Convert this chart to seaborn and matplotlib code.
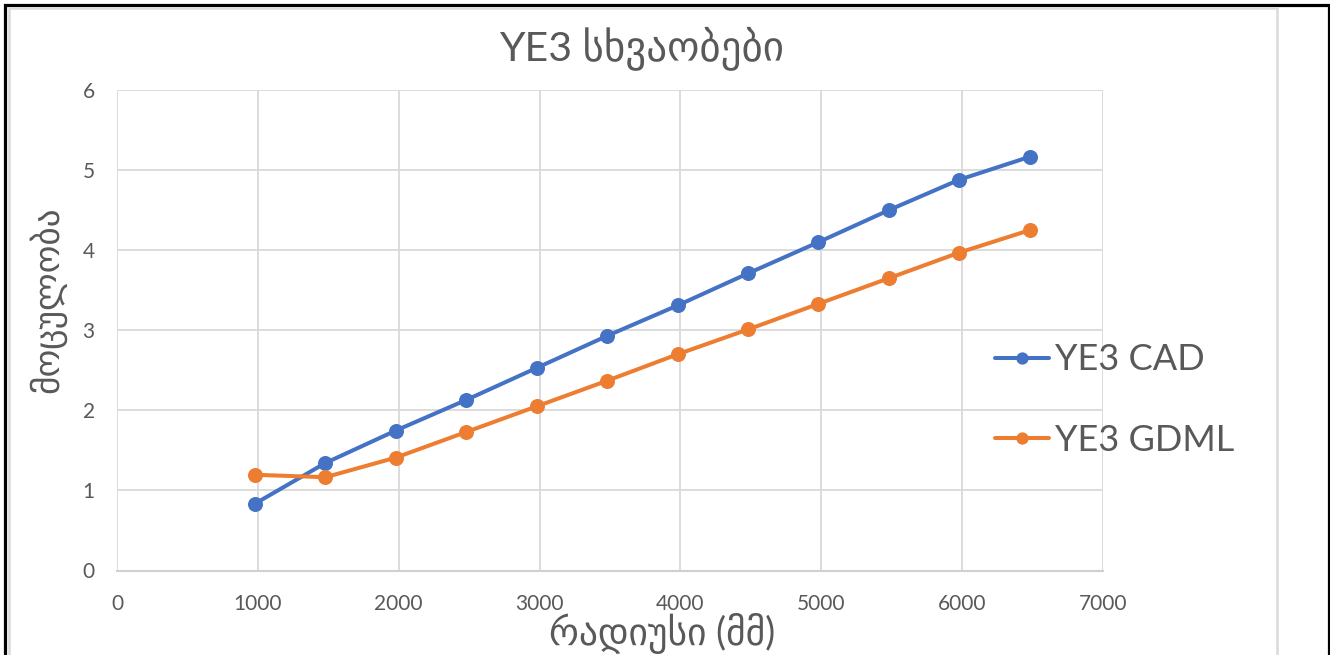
import matplotlib
matplotlib.use("Agg")
import matplotlib.pyplot as plt
from matplotlib.patches import Rectangle
import seaborn as sns
import pandas as pd

# ---- data ----
radius = [980, 1480, 1980, 2480, 2980, 3480, 3980, 4480, 4980, 5480, 5980, 6480]
ye3_cad = [0.835, 1.343, 1.748, 2.13, 2.53, 2.93, 3.31, 3.71, 4.10, 4.50, 4.88, 5.166]
ye3_gdml = [1.195, 1.165, 1.41, 1.73, 2.05, 2.37, 2.70, 3.01, 3.33, 3.65, 3.97, 4.25]
series_names = ["YE3 CAD", "YE3 GDML"]
x_ticks = [0, 1000, 2000, 3000, 4000, 5000, 6000, 7000]
y_ticks = [0, 1, 2, 3, 4, 5, 6]
title_text = "YE3 სხვაობები"
x_label = "რადიუსი (მმ)"
y_label = "მოცულობა"

df = pd.DataFrame({
    "radius": radius * 2,
    "value": ye3_cad + ye3_gdml,
    "series": [series_names[0]] * len(radius) + [series_names[1]] * len(radius),
})

sns.set_theme(style="white")
plt.rcParams["font.family"] = ["Lato", "DejaVu Sans"]

W, H = 1330, 655
fig = plt.figure(figsize=(W / 100, H / 100), dpi=100)
fig.patch.set_facecolor("white")

ax = fig.add_axes([117 / W, 1 - 570.5 / H, (1103 - 117) / W, (570.5 - 90) / H])

palette = {"YE3 CAD": "#4472C4", "YE3 GDML": "#ED7D31"}
sns.lineplot(data=df, x="radius", y="value", hue="series", palette=palette,
             marker="o", markersize=10.8, markeredgewidth=0, linewidth=2.9,
             legend=False, ax=ax, errorbar=None)

ax.set_xlim(0, 7000)
ax.set_ylim(0, 6)
ax.set_xticks(x_ticks)
ax.set_yticks(y_ticks)
ax.set_xticklabels([str(v) for v in x_ticks])
ax.set_yticklabels([str(v) for v in y_ticks])
ax.set_xlabel("")
ax.set_ylabel("")
ax.grid(True, color="#d9d9d9", linewidth=1.3)
ax.set_axisbelow(True)
for s in ["top", "right", "left"]:
    ax.spines[s].set_visible(False)
ax.spines["bottom"].set_color("#d0d0d0")
ax.spines["bottom"].set_linewidth(1.5)
ax.tick_params(axis="both", length=0, labelsize=15, labelcolor="#595959")
ax.tick_params(axis="y", pad=16)
ax.tick_params(axis="x", pad=17)

# Title and axis titles
txt_color = "#595959"
fig.text(642 / W, 1 - 60 / H, title_text, ha="center", va="baseline",
         fontsize=29.5, color=txt_color)
fig.text(662 / W, 1 - 634 / H, x_label, ha="center", va="center",
         fontsize=27, color=txt_color)
fig.text(47 / W, 1 - 300 / H, y_label, ha="center", va="center",
         rotation=90, fontsize=25.5, color=txt_color)

# Legend
handles = ax.get_lines()[:2]
fig.legend(handles, series_names, loc="center left",
           bbox_to_anchor=(995 / W, 1 - 400 / H), frameon=False,
           fontsize=26, handlelength=1.5, handletextpad=0.15, borderpad=0,
           borderaxespad=0, labelspacing=1.32, markerscale=0.82,
           labelcolor=txt_color)

# Frames: outer black, inner light-gray chart border
fig.add_artist(Rectangle((5 / W, -0.05), (1328.5 - 5) / W, 1.05 - 5 / H,
                         transform=fig.transFigure, fill=False,
                         edgecolor="black", linewidth=2.3))
fig.add_artist(Rectangle((8.5 / W, -0.05), (1277 - 8.5) / W, 1.05 - 8.5 / H,
                         transform=fig.transFigure, fill=False,
                         edgecolor="#d9d9d9", linewidth=1.8))

fig.savefig("out.png", dpi=100, facecolor="white")
